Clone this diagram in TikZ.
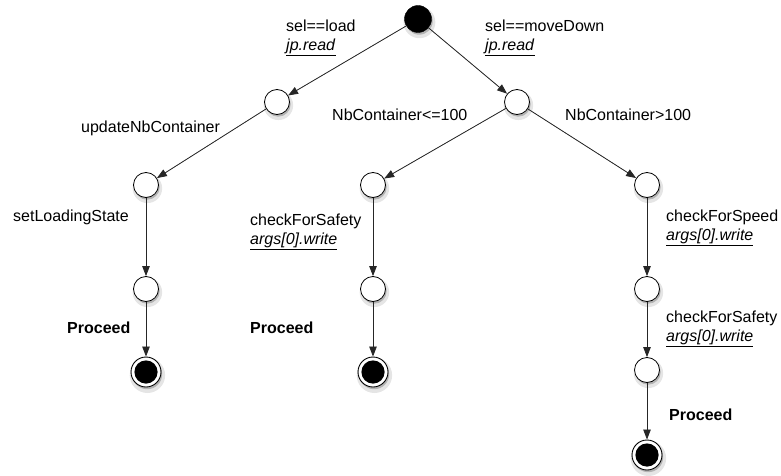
\documentclass[tikz,border=0pt]{standalone}
\usepackage{fontspec}
\setmainfont{Liberation Sans}
\usetikzlibrary{shadows,arrows.meta}
\tikzset{
  lbl/.style={font=\fontsize{16}{18.5}\selectfont, anchor=west, inner sep=0pt, align=left},
  shd/.style={drop shadow={shadow xshift=1.2pt, shadow yshift=-2.2pt, opacity=0.22, fill=black},
              drop shadow={shadow scale=1.18, shadow xshift=1.2pt, shadow yshift=-2.8pt, opacity=0.1, fill=black}},
  st/.style={circle, draw=black, line width=0.8pt, fill=white, minimum size=25pt, inner sep=0pt, shd},
  init/.style={circle, draw=black, fill=black, minimum size=27pt, inner sep=0pt, shd},
  fin/.style={circle, draw=black, line width=0.9pt, fill=white, minimum size=30pt, inner sep=0pt, shd,
              path picture={\fill[black] (path picture bounding box.center) circle (11.6pt);}},
  tr/.style={-{Triangle[length=10pt,width=7.5pt]}, line width=0.8pt, draw=black!85, fill=black},
}
\begin{document}
\begin{tikzpicture}[x=1pt,y=-1pt]
\useasboundingbox (0,0) rectangle (781,476);
% states
\node[init] (root) at (418,19) {};
\node[st] (A) at (277,102) {};
\node[st] (B) at (517,102) {};
\node[st] (C) at (146,185) {};
\node[st] (D) at (373,185) {};
\node[st] (E) at (647,185) {};
\node[st] (C2) at (146,289) {};
\node[st] (D2) at (373,289) {};
\node[st] (E2) at (647,289) {};
\node[st] (E3) at (647,370) {};
\node[fin] (C3) at (146,372) {};
\node[fin] (D3) at (373,372) {};
\node[fin] (E4) at (647,455) {};
% transitions
\draw[tr] (root) -- (A);
\draw[tr] (root) -- (B);
\draw[tr] (A) -- (C);
\draw[tr] (B) -- (D);
\draw[tr] (B) -- (E);
\draw[tr] (C) -- (C2);
\draw[tr] (C2) -- (C3);
\draw[tr] (D) -- (D2);
\draw[tr] (D2) -- (D3);
\draw[tr] (E) -- (E2);
\draw[tr] (E2) -- (E3);
\draw[tr] (E3) -- (E4);
% labels
\node[lbl] (l1) at (286,38) {sel==load\\\underline{\textit{jp.read}}};
\node[lbl] (l2) at (485,38) {sel==moveDown\\\underline{\textit{jp.read}}};
\node[lbl] (l3) at (81,128) {updateNbContainer};
\node[lbl] (l4) at (332,115) {NbContainer<=100};
\node[lbl] (l5) at (565,115) {NbContainer>100};
\node[lbl] (l6) at (13,217) {setLoadingState};
\node[lbl] (l7) at (250,232) {checkForSafety\\\underline{\textit{args[0].write}}};
\node[lbl] (l8) at (67,328) {\bfseries Proceed};
\node[lbl] (l9) at (250,328) {\bfseries Proceed};
\node[lbl] (l10) at (666,228) {checkForSpeed\\\underline{\textit{args[0].write}}};
\node[lbl] (l11) at (666,329) {checkForSafety\\\underline{\textit{args[0].write}}};
\node[lbl] (l12) at (669,415) {\bfseries Proceed};
\end{tikzpicture}
\end{document}
